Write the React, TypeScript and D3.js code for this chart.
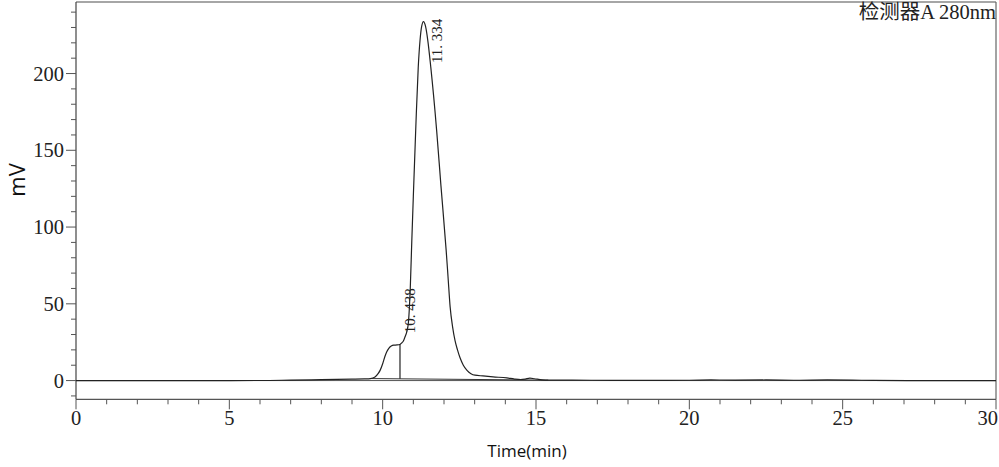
import React from "react";
import * as d3 from "d3";

const times = [0, 2, 4, 6, 7, 8, 9, 9.4, 9.6, 9.75, 9.85, 9.92, 10.0, 10.07, 10.13, 10.2, 10.28, 10.36, 10.47, 10.56, 10.62, 10.68, 10.73, 10.79, 10.84, 10.87, 10.9, 10.95, 11.0, 11.05, 11.09, 11.16, 11.22, 11.27, 11.33, 11.4, 11.47, 11.57, 11.76, 11.9, 12.07, 12.13, 12.2, 12.28, 12.36, 12.44, 12.52, 12.63, 12.75, 12.88, 13.01, 13.27, 13.6, 14.05, 14.3, 14.5, 14.65, 14.8, 14.95, 15.2, 15.4, 16.8, 18, 20, 20.7, 21.5, 22.5, 23.5, 24.5, 25.3, 26, 28, 30];
const signal = [0, 0, 0, 0.05, 0.3, 0.6, 0.9, 1.1, 1.3, 2.3, 4.5, 6.8, 11, 15.5, 18.6, 21, 22.5, 23.1, 23.2, 23.5, 24.5, 26, 28.5, 32, 38, 47, 60, 91, 120, 148, 170, 204, 222, 230.5, 233.8, 230.5, 221.8, 204, 163, 127, 85, 68, 48, 35, 26, 20, 15, 10, 6.7, 4.5, 3.5, 3.0, 2.4, 1.7, 1.0, 0.7, 1.0, 1.6, 1.2, 0.5, 0.3, 0.2, 0.1, 0.2, 0.4, 0.3, 0.4, 0.2, 0.4, 0.3, 0.1, 0, 0];

const peakTimes = [10.438, 11.334];
const peakLabels = ["10. 438", "11. 334"];
const peakLabelStart = [30.8, 206.8];

const dropTimes = [10.565];
const baselineTimes = [9.6, 15.4];
const baselineValues = [1.3, 0.3];

const xMajorTicks = [0, 5, 10, 15, 20, 25, 30];
const xMinorTicks = d3.range(0, 31, 1);
const yMajorTicks = [0, 50, 100, 150, 200];
const yMinorTicks = d3.range(-10, 241, 10);

const detectorLabel = "检测器A 280nm";
const xTitle = "Time(min)";
const yTitle = "mV";

const L = 76, R = 996, T = 2, B = 399.3;

export default function App() {
  const x = d3.scaleLinear().domain([0, 30]).range([L, R]);
  const y = d3.scaleLinear().domain([-12.2, 246.6]).range([B, T]);
  const pts: [number, number][] = times.map((t, i) => [t, signal[i]]);
  const line = d3.line<[number, number]>().x(d => x(d[0])).y(d => y(d[1])).curve(d3.curveMonotoneX);
  const sigAt = (t: number) => {
    const i = d3.bisector((d: number) => d).right(times, t) - 1;
    const t0 = times[i], t1 = times[i + 1];
    return signal[i] + (signal[i + 1] - signal[i]) * (t - t0) / (t1 - t0);
  };
  const baseAt = (t: number) => baselineValues[0] + (baselineValues[1] - baselineValues[0]) * (t - baselineTimes[0]) / (baselineTimes[1] - baselineTimes[0]);
  const serif = "'Liberation Serif', 'Noto Sans CJK SC', serif";
  const sans = "'Open Sans', 'Noto Sans', sans-serif";
  return (
    <svg width={999} height={467} style={{ position: "absolute", left: 0, top: 0, background: "#fff" }}>
      {/* frame */}
      <line x1={L} x2={R} y1={T} y2={T} stroke="#888" strokeWidth={1.5} />
      <line x1={R} x2={R} y1={T} y2={B} stroke="#666" strokeWidth={1.2} />
      <line x1={L} x2={R} y1={B} y2={B} stroke="#555" strokeWidth={1.2} />
      <line x1={L} x2={L} y1={T} y2={B} stroke="#444" strokeWidth={1.2} />
      {/* zero line */}
      <line x1={x(0)} x2={x(30)} y1={y(0)} y2={y(0)} stroke="#555" strokeWidth={1} />
      {/* y ticks */}
      {yMinorTicks.map(v => (
        <line key={"ym" + v} x1={L - (v % 50 === 0 ? 10 : 5)} x2={L} y1={y(v)} y2={y(v)} stroke="#555" strokeWidth={1} />
      ))}
      {yMajorTicks.map(v => (
        <text key={"yl" + v} x={L - 12} y={y(v)} dy="0.35em" textAnchor="end" fontFamily={serif} fontSize={20.5} fill="#222">{v}</text>
      ))}
      {/* x ticks */}
      {xMinorTicks.map(v => (
        <line key={"xm" + v} x1={x(v)} x2={x(v)} y1={B} y2={B + (v % 5 === 0 ? 10 : 5)} stroke="#555" strokeWidth={1} />
      ))}
      {xMajorTicks.map((v, i) => {
        const last = i === xMajorTicks.length - 1;
        return (
          <text key={"xl" + v} x={last ? 998 : x(v)} y={425} textAnchor={last ? "end" : "middle"} fontFamily={serif} fontSize={20.5} fill="#222">{v}</text>
        );
      })}
      {/* baseline & drop line */}
      <line x1={x(baselineTimes[0])} x2={x(baselineTimes[1])} y1={y(baselineValues[0])} y2={y(baselineValues[1])} stroke="#333" strokeWidth={1} />
      {dropTimes.map(t => (
        <line key={"d" + t} x1={x(t)} x2={x(t)} y1={y(baseAt(t))} y2={y(sigAt(t))} stroke="#222" strokeWidth={1.2} />
      ))}
      {/* signal */}
      <path d={line(pts) || ""} fill="none" stroke="#222" strokeWidth={1.2} />
      {/* peak labels */}
      {peakTimes.map((t, i) => (
        <text key={"p" + t} transform={`translate(${x(t) + 18.5},${y(peakLabelStart[i])}) rotate(-90)`} fontFamily={serif} fontSize={15} fill="#222">{peakLabels[i]}</text>
      ))}
      {/* detector label */}
      <text x={R} y={19} textAnchor="end" fontFamily={serif} fontSize={20.5} fill="#222">{detectorLabel}</text>
      {/* axis titles */}
      <text transform={`translate(25,180) rotate(-90)`} textAnchor="middle" fontFamily={sans} fontSize={22} fill="#111">{yTitle}</text>
      <text x={527} y={457} textAnchor="middle" fontFamily={sans} fontSize={17} fill="#111">{xTitle}</text>
    </svg>
  );
}
